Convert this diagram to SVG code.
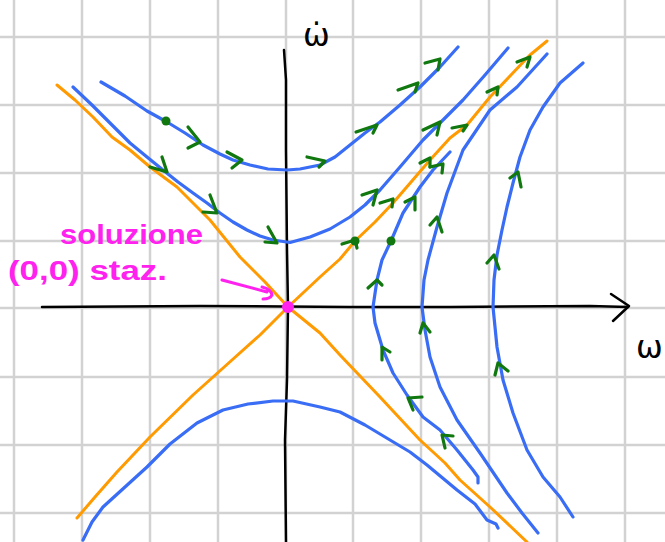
<svg xmlns="http://www.w3.org/2000/svg" width="665" height="542" viewBox="0 0 665 542">
<style>
.grid{stroke:#d2d2d2;stroke-width:2.5;fill:none}
.axis{stroke:#000;stroke-width:2.5;fill:none;stroke-linecap:round;stroke-linejoin:round}
.blue{stroke:#3a6df5;stroke-width:3.2;fill:none;stroke-linecap:round;stroke-linejoin:round}
.orange{stroke:#ff9a00;stroke-width:3;fill:none;stroke-linecap:round;stroke-linejoin:round}
.chev{stroke:#10780f;stroke-width:3.2;fill:none;stroke-linecap:round;stroke-linejoin:round}
.dot{fill:#10780f}
.mag{fill:#ff22ee;font-family:"Liberation Sans",Arial,sans-serif;font-size:28px;font-weight:bold}
.lbl{fill:#000;font-family:"DejaVu Sans","Liberation Sans",sans-serif}
</style>
<rect width="665" height="542" fill="#fff"/>
<g id="grid">
<path class="grid" d="M14,0V542M82,0V542M150,0V542M218,0V542M286,0V542M353,0V542M421,0V542M489,0V542M557,0V542M625,0V542"/>
<path class="grid" d="M0,37H665M0,105H665M0,173H665M0,241H665M0,308H665M0,377H665M0,445H665M0,513H665"/>
</g>
<g id="axes">
<path class="axis" d="M284,50 L286,80 L286,150 L287,250 L288,307 L287,380 L285,440 L286,542"/>
<path class="axis" d="M42,307 L200,306 L350,307 L450,307 L590,306 L628,307"/>
<path class="axis" d="M611,294 L629,306 L613,321"/>
</g>
<g id="separatrices">
<path class="orange" d="M57,85 L75,100 L93,117 L112,137 L130,150 L150,167 L177,187 L210,220 L240,257 L265,282 L288,307 L320,333 L340,355 L360,376 L380,397 L420,440 L445,463 L460,480 L490,507 L527,542"/>
<path class="orange" d="M77,518 L95,497 L117,472 L150,437 L193,395 L232,360 L260,335 L288,307 L320,277 L340,259 L355,241 L375,222 L393,203 L430,160 L450,138 L467,125 L490,97 L510,76 L530,55 L547,41"/>
</g>
<g id="connectors">
<path id="U1" class="blue" d="M101,82 L125,96 L147,111 L167,122 L185,133 L203,145 L220,154 L233,160 L250,165 L268,169 L287,170 L300,169 L320,165 L335,157 L350,145 L365,133 L380,122 L400,105 L420,87 L440,67 L458,47"/>
<path id="U2" class="blue" d="M73,87 L92,105 L110,123 L130,143 L147,157 L163,170 L178,182 L193,193 L207,203 L220,213 L233,222 L247,230 L260,236 L273,240 L290,242.5 L310,237 L330,229 L350,217 L365,205 L380,190 L400,167 L423,140 L443,120 L463,100 L485,75 L508,48"/>
<path id="L" class="blue" d="M83,540 L92,522 L103,507 L125,487 L147,467 L170,444 L197,423 L223,410 L248,404 L273,401 L293,401 L320,407 L340,412 L365,425 L390,440 L410,452 L427,465 L445,480 L457,490 L475,504 L487,520 L496,524 L498,528"/>
<path id="Ca" class="blue" d="M450,152 L433,170 L420,187 L403,213 L391,241 L382,260 L377,280 L373,307 L375,323 L383,350 L393,373 L407,395 L423,417 L440,430 L457,450 L473,470 L478,477 L478,483"/>
<path id="Cb" class="blue" d="M547,54 L517,87 L490,110 L463,150 L447,193 L437,227 L428,260 L424,280 L422,307 L425,330 L430,357 L440,387 L457,420 L480,453 L507,493 L522,513 L538,533"/>
<path id="Cc" class="blue" d="M583,63 L560,83 L543,107 L530,130 L520,157 L513,183 L507,207 L502,230 L497,255 L494,280 L493,307 L497,347 L503,380 L513,413 L527,450 L543,477 L560,497 L573,517"/>
</g>
<g id="arrows">
<path class="chev" d="M188,127 L200,142 L188,148"/>
<path class="chev" d="M227,152 L242,160 L232,168"/>
<path class="chev" d="M307,157 L325,161 L319,167"/>
<path class="chev" d="M356,132 L377,125 L373,133"/>
<path class="chev" d="M398,90 L418,83 L415,92"/>
<path class="chev" d="M425,63 L440,59 L438,70"/>
<path class="chev" d="M162,157 L167,172 L150,167"/>
<path class="chev" d="M210,195 L217,213 L203,212"/>
<path class="chev" d="M268,227 L277,243 L265,242"/>
<path class="chev" d="M362,195 L377,190 L373,205"/>
<path class="chev" d="M423,130 L440,122 L437,135"/>
<path class="chev" d="M342,244 L355,240 L357,248"/>
<path class="chev" d="M380,203 L393,199 L392,207"/>
<path class="chev" d="M420,163 L430,158 L430,167"/>
<path class="chev" d="M452,128 L467,125 L463,131"/>
<path class="chev" d="M487,92 L498,87 L497,95"/>
<path class="chev" d="M517,62 L530,57 L527,67"/>
<path class="chev" d="M405,202 L415,197 L415,210"/>
<path class="chev" d="M430,167 L443,164 L442,173"/>
<path class="chev" d="M368,288 L377,280 L382,285"/>
<path class="chev" d="M382,360 L382,347 L390,352"/>
<path class="chev" d="M413,410 L408,398 L422,397"/>
<path class="chev" d="M445,448 L442,435 L453,436"/>
<path class="chev" d="M430,225 L437,217 L442,232"/>
<path class="chev" d="M420,333 L423,323 L430,332"/>
<path class="chev" d="M495,375 L498,363 L508,371"/>
<path class="chev" d="M487,263 L494,255 L499,269"/>
<path class="chev" d="M510,178 L518,172 L521,187"/>
</g>
<g id="points">
<circle class="dot" cx="166" cy="121" r="4.5"/>
<circle class="dot" cx="355" cy="241" r="4.5"/>
<circle class="dot" cx="391" cy="241" r="4.5"/>
</g>
<g id="origin">
<circle cx="288" cy="307" r="6" fill="#ff22ee"/>
<path d="M222,280 L267,292 M262,287 Q271,289 272,295 Q270,299 263,299" stroke="#ff22ee" stroke-width="3" fill="none" stroke-linecap="round"/>
<text class="mag" x="60" y="244" textLength="143" lengthAdjust="spacingAndGlyphs">soluzione</text>
<text class="mag" x="8" y="280" textLength="159" lengthAdjust="spacingAndGlyphs">(0,0) staz.</text>
</g>
<g id="labels">
<text class="lbl" x="303" y="46" font-size="32">ω̇</text>
<text class="lbl" x="636" y="358" font-size="32">ω</text>
</g>
</svg>
